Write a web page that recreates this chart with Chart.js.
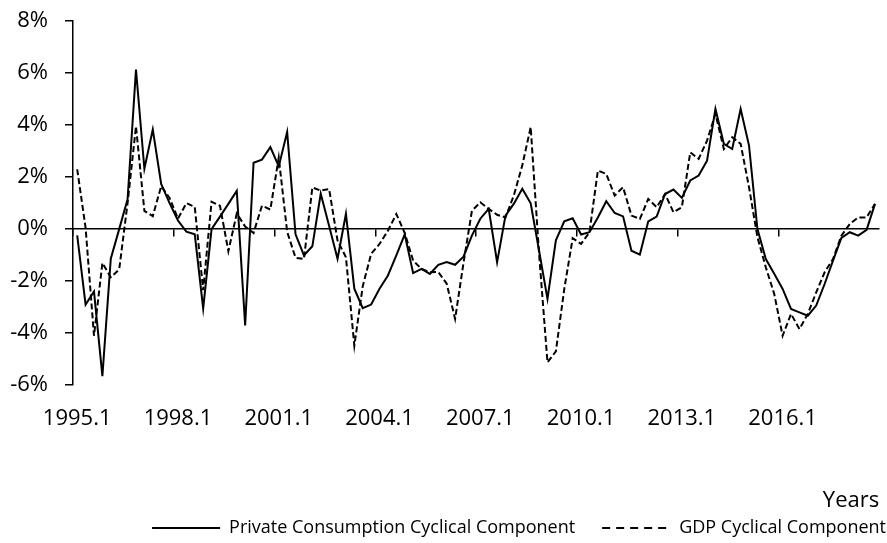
<!DOCTYPE html>
<html>
<head>
<meta charset="utf-8">
<script src="https://cdn.jsdelivr.net/npm/chart.js@4.4.0/dist/chart.umd.min.js"></script>
<style>
  html, body { margin: 0; padding: 0; background: #fff; }
  #wrap { width: 887px; height: 543px; }
</style>
</head>
<body>
<div id="wrap"><canvas id="chart"></canvas></div>
<script>
// quarters 1995.1 .. 2018.4
const years = [1995, 1996, 1997, 1998, 1999, 2000, 2001, 2002, 2003, 2004, 2005, 2006,
               2007, 2008, 2009, 2010, 2011, 2012, 2013, 2014, 2015, 2016, 2017, 2018]
const quarters = [1, 2, 3, 4]
const tickLabels = ['1995.1', '1998.1', '2001.1', '2004.1', '2007.1', '2010.1', '2013.1', '2016.1']

// cyclical components, in %
const consumption = [
  -0.24, -2.9, -2.4, -5.65, -1.14, 0.0, 1.15, 6.13, 2.32, 3.83, 1.74, 1.0,
  0.33, -0.1, -0.2, -3.05, 0.0, 0.48, 0.97, 1.47, -3.7, 2.55, 2.67, 3.15,
  2.41, 3.73, -0.2, -1.01, -0.66, 1.36, 0.12, -1.14, 0.59, -2.29, -3.04, -2.9,
  -2.29, -1.78, -1.01, -0.2, -1.69, -1.53, -1.72, -1.37, -1.27, -1.37, -1.06, -0.25,
  0.4, 0.78, -1.27, 0.52, 0.98, 1.55, 0.99, -0.83, -2.68, -0.43, 0.3, 0.42,
  -0.21, -0.12, 0.45, 1.07, 0.62, 0.49, -0.83, -0.98, 0.3, 0.48, 1.35, 1.52,
  1.2, 1.87, 2.06, 2.63, 4.62, 3.28, 3.08, 4.62, 3.21, 0.0, -1.15, -1.72,
  -2.3, -3.07, -3.2, -3.33, -2.94, -2.11, -1.21, -0.34, -0.12, -0.25, -0.03, 0.97
]
const gdp = [
  2.3, 0.05, -4.1, -1.3, -1.85, -1.55, 1.0, 3.95, 0.7, 0.5, 1.65, 1.2,
  0.4, 1.0, 0.85, -2.35, 1.05, 0.9, -0.85, 0.6, 0.1, -0.15, 0.9, 0.75,
  2.75, -0.1, -1.1, -1.15, 1.6, 1.48, 1.54, -0.44, -1.08, -4.48, -2.2, -0.95,
  -0.57, -0.06, 0.58, -0.15, -1.21, -1.53, -1.66, -1.65, -2.1, -3.45, -1.3, 0.7,
  1.03, 0.78, 0.55, 0.45, 1.3, 2.45, 3.92, -0.95, -5.12, -4.7, -2.3, -0.35,
  -0.57, -0.12, 2.25, 2.12, 1.29, 1.61, 0.52, 0.39, 1.16, 0.84, 1.35, 0.65,
  0.84, 2.95, 2.7, 3.4, 4.43, 3.08, 3.53, 3.28, 1.61, -0.31, -1.47, -2.49,
  -4.1, -3.26, -3.84, -3.26, -2.43, -1.66, -1.15, -0.25, 0.2, 0.45, 0.45, 0.97
]

const labels = []
years.forEach(y => quarters.forEach(q => labels.push(y + '.' + q)))

Chart.defaults.font.family = "'Open Sans', sans-serif"
Chart.defaults.color = '#000'

// push legend to the bottom right like the original
const legendShift = {
  id: 'legendShift',
  afterLayout(chart) {
    const lg = chart.legend
    lg.left += 26
    lg.right += 26
    lg.top += 4
    lg.bottom += 4
  }
}

new Chart(document.getElementById('chart'), {
  type: 'line',
  data: {
    labels: labels,
    datasets: [
      {
        label: 'Private Consumption Cyclical Component',
        data: consumption,
        borderColor: '#000',
        borderWidth: 2,
        pointRadius: 0,
        tension: 0,
        fill: false
      },
      {
        label: 'GDP Cyclical Component',
        data: gdp,
        borderColor: '#000',
        borderWidth: 2,
        borderDash: [6, 3],
        pointRadius: 0,
        tension: 0,
        fill: false
      }
    ]
  },
  options: {
    responsive: true,
    maintainAspectRatio: false,
    animation: false,
    layout: { padding: { top: 21, right: 0, left: 0, bottom: 0 } },
    plugins: {
      tooltip: { enabled: false },
      legend: {
        position: 'bottom',
        align: 'end',
        labels: {
          usePointStyle: true,
          pointStyle: 'line',
          pointStyleWidth: 68,
          padding: 27,
          font: { size: 18 },
          generateLabels: chart => {
            const items = Chart.defaults.plugins.legend.labels.generateLabels(chart)
            items.forEach((it, i) => {
              it.lineDash = chart.data.datasets[i].borderDash ? [8, 6] : []
              it.lineWidth = 2
              it.strokeStyle = '#000'
            })
            return items
          }
        }
      }
    },
    scales: {
      x: {
        type: 'category',
        offset: true,
        grid: { display: false },
        border: { display: false },
        ticks: {
          autoSkip: false,
          maxRotation: 0,
          padding: 12,
          font: { size: 22 },
          callback: function (v) {
            const l = this.getLabelForValue(v)
            return tickLabels.includes(l) ? l : ''
          }
        },
        title: {
          display: true,
          text: 'Years',
          align: 'end',
          font: { size: 22 },
          padding: { top: 44, bottom: -26 }
        }
      },
      zero: {
        type: 'category',
        axis: 'x',
        position: { y: 0 },
        offset: true,
        grid: {
          offset: true,
          drawOnChartArea: false,
          tickLength: 7,
          lineWidth: 1.5,
          color: ctx => ctx.index % 12 === 0 ? '#000' : 'rgba(0,0,0,0)'
        },
        border: { color: '#000', width: 1.5 },
        ticks: { display: false, autoSkip: false }
      },
      y: {
        min: -6,
        max: 8,
        ticks: {
          stepSize: 2,
          padding: 17,
          font: { size: 22 },
          callback: v => v + '%'
        },
        grid: { drawOnChartArea: false, tickLength: 8, color: '#000', lineWidth: 1.5 },
        border: { color: '#000', width: 1.5 },
        afterFit: s => {
          s.width = 73
          s.paddingTop = 0
          s.paddingBottom = 0
        }
      }
    }
  },
  plugins: [legendShift]
})
</script>
</body>
</html>
